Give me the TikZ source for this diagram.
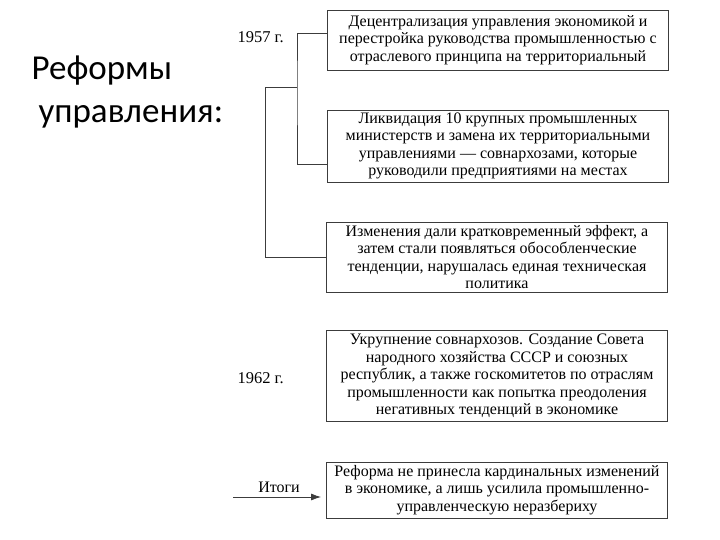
\documentclass[tikz,border=0pt]{standalone}
\usepackage{fontspec}
\setmainfont{Liberation Serif}
\newfontfamily\titlefont{Carlito}
\usepackage{tikz}
\usetikzlibrary{arrows.meta}
\usepackage{xcolor}
\definecolor{boxline}{RGB}{60, 60, 60}

\begin{document}
\begin{tikzpicture}[x=1pt, y=-1pt, >=Latex,
    box/.style={draw=boxline, line width=0.9pt, align=center, minimum width=341pt,
      inner sep=1pt, font=\fontsize{16}{17.4}\selectfont},
    link/.style={draw=boxline, line width=0.8pt},
    yearlabel/.style={font=\fontsize{16.5}{18}\selectfont, anchor=west}]
    \useasboundingbox (0, 0) rectangle (720, 540);
    \node[font=\titlefont\fontsize{35}{43}\selectfont, align=left, anchor=west] (title) at (28, 92)
      {Реформы\\\hspace{0.2em}управления:};
    \node[yearlabel] (y1957) at (234, 37) {1957 г.};
    \node[yearlabel] (y1962) at (234, 378) {1962 г.};
    \node[box, minimum height=60pt] (dec) at (498, 40)
      {Децентрализация управления экономикой и\\перестройка руководства промышленностью с\\отраслевого принципа на территориальный};
    \node[box, minimum height=72pt] (liq) at (498, 146)
      {Ликвидация 10 крупных промышленных\\министерств и замена их территориальными\\управлениями — совнархозами, которые\\руководили предприятиями на местах};
    \node[box, minimum height=70pt] (eff) at (497, 257)
      {Изменения дали кратковременный эффект, а\\затем стали появляться обособленческие\\тенденции, нарушалась единая техническая\\политика};
    \node[box, minimum height=91pt] (ukr) at (497, 376)
      {Укрупнение совнархозов. Создание Совета\\народного хозяйства СССР и союзных\\республик, а также госкомитетов по отраслям\\промышленности как попытка преодоления\\негативных тенденций в экономике};
    \node[box, minimum height=56pt] (itog) at (497, 490)
      {Реформа не принесла кардинальных изменений\\в экономике, а лишь усилила промышленно-\\управленческую неразбериху};
    \node[font=\fontsize{16}{17}\selectfont] (res) at (279, 487) {Итоги};
    \coordinate (fork) at (297, 87);
    \coordinate (elbow) at (265, 87);
    \coordinate (start) at (233, 497);
    \draw[link] ([yshift=7pt]dec.west) -| (fork) |- ([yshift=-18pt]liq.west);
    \draw[link] (fork) -- (elbow) |- (eff.west);
    \draw[link, -{Latex[length=10pt, width=7pt]}] (start) -- ([xshift=-5pt, yshift=-7pt]itog.west);
  \end{tikzpicture}
\end{document}
